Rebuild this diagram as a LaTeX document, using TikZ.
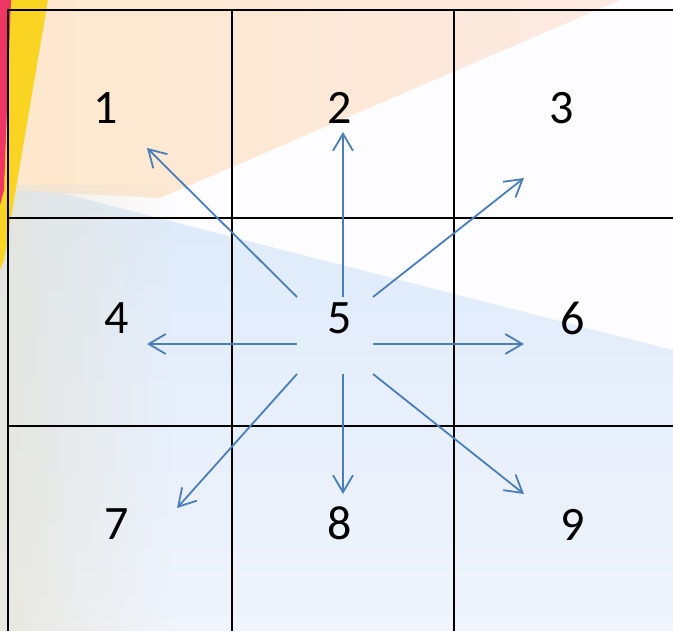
\documentclass[tikz,border=0pt]{standalone}
\usepackage{fontspec}
\setmainfont{Carlito}
\usetikzlibrary{arrows.meta,fadings}
\definecolor{arrowblue}{HTML}{4A7EBB}
\definecolor{bgblue}{HTML}{DDEAFA}
\definecolor{bglight}{HTML}{F0F4FC}
\definecolor{bgwhite}{HTML}{FDFCFE}
\definecolor{bgpeach}{HTML}{FDE8CD}
\definecolor{bgpink}{HTML}{FCE9E2}
\definecolor{bgbeige}{HTML}{E6E3D6}
\definecolor{stripered}{HTML}{EE3563}
\definecolor{stripeyellow}{HTML}{F9D423}
\begin{document}
\begin{tikzpicture}[x=1pt,y=-1pt,
  num/.style={font=\fontsize{48}{50}\selectfont},
  dir/.style={draw=arrowblue,line width=1.8pt,-{Straight Barb[length=17pt,width=20pt]}}]
\useasboundingbox (0,0) rectangle (673,631);
\begin{scope}
\clip (0,0) rectangle (673,631);
% background
\shade[top color=bgblue,bottom color=bglight] (0,177) -- (673,350) -- (673,631) -- (0,631) -- cycle;
\fill[bgwhite] (0,0) -- (673,0) -- (673,350) -- (0,177) -- cycle;
\shade[left color=bgpeach,right color=bgpink] (0,0) -- (620,0) -- (160,198) -- (0,190) -- cycle;
\fill[bgbeige,opacity=0.7,path fading=east] (0,185) rectangle (170,631);
\fill[stripeyellow] (9,0) -- (48,0) -- (14,200) -- (4,260) -- (0,270) -- (0,170) -- cycle;
\fill[stripered] (0,0) -- (11,0) -- (4,190) -- (0,205) -- cycle;
\end{scope}

% grid
\draw[line width=2.8pt] (8,631) -- (8,10) -- (673,10);
\draw[line width=2.8pt] (232,10) -- (232,631);
\draw[line width=2.8pt] (454,10) -- (454,631);
\draw[line width=2.8pt] (8,218) -- (673,218);
\draw[line width=2.8pt] (8,426) -- (673,426);

% cell numbers
\node[num] (n1) at (106,108) {1};
\node[num] (n2) at (340,108) {2};
\node[num] (n3) at (562,108) {3};
\node[num] (n4) at (117,318) {4};
\node[num] (n5) at (340,318) {5};
\node[num] (n6) at (573,318) {6};
\node[num] (n7) at (117,524) {7};
\node[num] (n8) at (340,523) {8};
\node[num] (n9) at (573,525) {9};

% arrow ends
\coordinate (s1) at (297,297); \coordinate (e1) at (147,148);
\coordinate (s2) at (343,297); \coordinate (e2) at (343,132);
\coordinate (s3) at (373,297); \coordinate (e3) at (524,178);
\coordinate (s4) at (297,344); \coordinate (e4) at (147,344);
\coordinate (s6) at (373,344); \coordinate (e6) at (524,344);
\coordinate (s7) at (297,374); \coordinate (e7) at (177,508);
\coordinate (s8) at (343,374); \coordinate (e8) at (343,494);
\coordinate (s9) at (373,374); \coordinate (e9) at (524,494);

\draw[dir] (s1) -- (e1);
\draw[dir] (s2) -- (e2);
\draw[dir] (s3) -- (e3);
\draw[dir] (s4) -- (e4);
\draw[dir] (s6) -- (e6);
\draw[dir] (s7) -- (e7);
\draw[dir] (s8) -- (e8);
\draw[dir] (s9) -- (e9);
\end{tikzpicture}
\end{document}
